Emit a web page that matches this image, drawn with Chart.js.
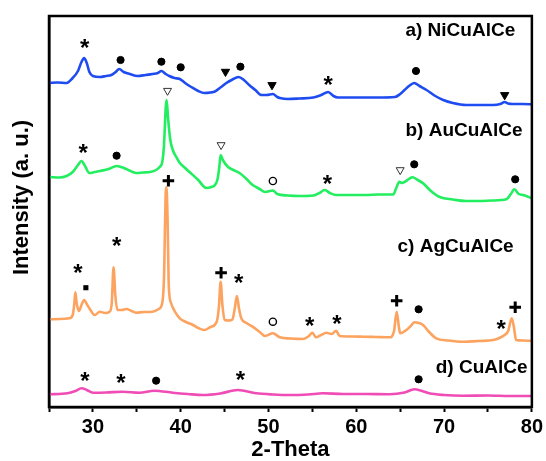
<!DOCTYPE html>
<html><head><meta charset="utf-8">
<script src="https://cdn.jsdelivr.net/npm/chart.js@4.4.1/dist/chart.umd.min.js"></script>
<style>html,body{margin:0;padding:0;background:#fff}#wrap{width:546px;height:461px}</style>
</head><body><div id="wrap"><canvas id="c" width="546" height="461"></canvas></div>
<script>
// ---- data (2-Theta, intensity a.u. with stacking offset) ----
const niCuAlCe = [[25.0,324],[26.0,324.5],[27.0,324],[27.7,329],[28.3,336],[28.7,345],[29.0,349],[29.3,344],[29.6,335],[30.0,331],[30.8,330],[31.5,331],[32.1,332],[32.6,335],[33.0,338],[33.5,335],[34.2,333],[35.1,331],[36.0,332],[36.8,333],[37.4,334],[37.8,336],[38.3,333],[38.7,331],[39.3,329],[39.9,328],[40.5,324],[41.2,320],[42.0,316],[42.7,314],[43.4,314.5],[43.9,315.5],[44.6,320],[45.2,324],[45.8,327],[46.6,330],[47.2,327],[47.8,322],[48.5,317],[49.2,312],[49.8,312],[50.5,313],[51.0,310],[51.3,309],[52.2,308],[53.5,308.5],[55.1,309.5],[56.0,312],[56.8,315],[57.4,311],[57.9,309.5],[59.0,309.5],[60.8,309.5],[62.5,309.5],[64.4,310],[65.0,313],[65.5,317],[66.0,321],[66.6,324],[67.2,321],[68.0,317],[69.0,311],[69.9,307],[71.0,304],[72.5,302],[74.0,302],[75.6,302],[76.4,303],[76.9,305],[77.3,303.5],[77.8,303],[79.0,303],[80.0,302.7]];
const auCuAlCe = [[25.1,230],[26.2,229.5],[27.0,231],[27.7,235],[28.3,242],[28.7,246],[29.1,241],[29.6,234],[30.2,235],[30.8,236],[31.8,238],[32.7,241],[33.2,240],[33.8,238],[34.9,234],[35.7,234.5],[36.5,235],[37.2,237],[37.6,240],[37.9,245],[38.1,262],[38.3,300],[38.4,307],[38.55,290],[38.8,268],[39.1,257],[39.5,250],[39.9,244],[40.5,239],[41.0,235],[42.0,227],[42.9,219],[43.5,220],[43.9,222],[44.2,228],[44.4,240],[44.55,252],[44.8,247],[45.4,240],[46.0,237],[46.7,234],[47.5,228],[48.2,222],[49.0,218],[49.6,215],[50.5,216.5],[51.0,213],[52.2,211.5],[53.5,211],[55.1,211.5],[55.8,214],[56.4,217],[57.0,214],[57.7,212],[59.5,212],[61.1,212],[62.5,212.5],[64.2,212.5],[64.6,220],[64.9,225.3],[65.2,224],[65.5,225],[66.0,228],[66.4,229.7],[67.0,227],[67.6,223.7],[68.5,216],[69.5,210],[71.0,207.5],[72.5,206],[74.0,206],[75.5,206.5],[77.1,207.7],[77.6,213],[78.0,217.7],[78.5,213],[79.0,212],[80.0,208.7]];
const agCuAlCe = [[25.1,87.7],[26.2,88],[27.3,88.7],[27.7,92],[27.9,105],[28.0,114.7],[28.15,104],[28.4,96],[28.7,102],[29.0,107],[29.3,103],[29.6,98.7],[30.2,92],[30.8,95.3],[31.4,94],[31.9,95.3],[32.15,104],[32.35,139.7],[32.55,112],[32.8,97],[33.3,97],[33.8,98],[34.4,96],[34.9,94.3],[35.8,95],[36.8,95.3],[37.5,98],[37.9,104],[38.1,130],[38.3,215],[38.38,220],[38.5,190],[38.65,120],[38.9,104],[39.3,96],[39.9,88.7],[40.6,85],[41.4,82],[42.0,79],[42.7,77],[43.4,80],[44.1,85.3],[44.35,100],[44.55,125.3],[44.75,102],[45.0,87],[45.5,86.5],[45.9,87.7],[46.15,98],[46.4,111],[46.65,98],[46.9,88.7],[47.5,84],[48.2,80.3],[49.0,75],[49.6,71],[50.5,73.7],[51.3,69.7],[52.5,68.5],[53.9,68],[54.6,71],[55.0,74.3],[55.4,69.7],[56.0,72],[56.6,74.3],[57.2,73],[57.7,76.3],[58.1,71],[59.5,70.5],[60.8,70.3],[62.3,70],[63.8,69.7],[64.3,76],[64.6,95.3],[64.85,80],[65.0,73.7],[65.7,77],[66.2,81],[66.6,84.7],[67.1,84],[67.6,82],[68.3,75],[69.1,68.7],[70.5,66.5],[72.1,65.3],[74.0,66],[75.6,67],[76.3,69],[76.9,72],[77.3,76],[77.7,88.7],[77.95,80],[78.2,67],[79.0,66.5],[80.0,66]];
const cuAlCe = [[25.0,12.7],[27.1,13.7],[28.0,16],[28.7,18.7],[29.3,17],[30.0,14.3],[31.5,14.5],[33.4,15.3],[35.3,14.3],[37.0,16.3],[39.1,14.3],[40.8,13],[42.5,12],[44.5,13.5],[46.5,17],[48.6,13.7],[50.5,12.5],[52.4,12],[54.5,12.5],[56.2,13.7],[58.5,13],[61.0,13],[63.8,12.7],[65.5,14.5],[66.6,17.7],[67.5,16],[68.3,13.7],[70.0,12],[72.1,11.3],[75.0,11.5],[77.5,11],[80.0,11]];

// phase markers [2-Theta, intensity]
const starMarks = [[29.05,363.7],[56.8,327],[28.9,258.7],[56.7,227.7],[32.7,166],[28.3,138.7],[46.6,128.7],[54.7,86],[57.8,87.7],[76.5,83],[29.1,30.3],[33.2,28.7],[46.8,32]];
const dotMarks = [[33.15,347],[37.8,345.3],[40.0,339.7],[46.8,340.3],[66.8,336],[32.7,251.3],[66.6,242.7],[78.1,227.7],[67.1,97.7],[37.2,26.3],[67.1,27.7]];
const triMarks = [[45.1,335.3],[50.4,322],[76.9,312]];
const openTriMarks = [[38.5,316.3],[44.6,262],[65.0,237]];
const openDotMarks = [[50.5,226],[50.5,85.3]];
const plusMarks = [[38.6,226.3],[44.6,134.3],[64.6,106.3],[78.1,99.7]];
const squareMarks = [[29.2,119.3]];

const seriesNames = ['a) NiCuAlCe','b) AuCuAlCe','c) AgCuAlCe','d) CuAlCe'];
const xTicks = [30,40,50,60,70,80];
// label anchors [2-Theta, intensity]
const nameAnchors = [[65.6,376],[65.6,276],[64.7,160],[69.05,39]];

const FONT = '"Liberation Sans", Arial, sans-serif';
const pts = a => a.map(p => ({x:p[0], y:p[1]}));
const trace = (d,c) => ({data:pts(d), showLine:true, borderColor:c, borderWidth:2.6, pointRadius:0, cubicInterpolationMode:'monotone', fill:false});
const mark = (d,o) => Object.assign({data:pts(d), showLine:false, pointHoverRadius:0}, o);

const overlay = {
  id:'overlay',
  afterDatasetsDraw(chart){
    const {ctx, chartArea:a, scales:{x,y}} = chart;
    ctx.save();
    ctx.fillStyle = '#000';
    ctx.textAlign = 'center'; ctx.textBaseline = 'alphabetic';
    ctx.font = 'bold 24px ' + FONT;
    const m = ctx.measureText('*');
    const off = (m.actualBoundingBoxAscent - m.actualBoundingBoxDescent)/2;
    starMarks.forEach(p => ctx.fillText('*', x.getPixelForValue(p[0]), y.getPixelForValue(p[1]) + off));
    ctx.textAlign = 'left'; ctx.textBaseline = 'middle';
    ctx.font = 'bold 19px ' + FONT;
    seriesNames.forEach((s,i) => ctx.fillText(s, x.getPixelForValue(nameAnchors[i][0]), y.getPixelForValue(nameAnchors[i][1])));
    ctx.lineWidth = 2.5; ctx.strokeStyle = '#000';
    ctx.strokeRect(a.left, a.top, a.right - a.left, a.bottom - a.top);
    ctx.translate(22, (a.top + a.bottom)/2 - 14);
    ctx.rotate(-Math.PI/2);
    ctx.textAlign = 'center'; ctx.font = 'bold 22px ' + FONT;
    ctx.fillText('Intensity (a. u.)', 0, 0);
    ctx.restore();
  }
};

new Chart(document.getElementById('c'), {
  type:'scatter',
  data:{datasets:[
    trace(cuAlCe,'#f04cb6'),
    trace(agCuAlCe,'#fca35f'),
    trace(auCuAlCe,'#22ee5f'),
    trace(niCuAlCe,'#1f4cf0'),
    mark(dotMarks,{pointStyle:'circle', pointRadius:3.6, backgroundColor:'#000', borderColor:'#000', borderWidth:1}),
    mark(triMarks,{pointStyle:'triangle', rotation:180, pointRadius:4.8, backgroundColor:'#000', borderColor:'#000', borderWidth:1}),
    mark(openTriMarks,{pointStyle:'triangle', rotation:180, pointRadius:4.6, backgroundColor:'#fff', borderColor:'#333', borderWidth:1}),
    mark(openDotMarks,{pointStyle:'circle', pointRadius:3.6, backgroundColor:'#fff', borderColor:'#000', borderWidth:1.4}),
    mark(plusMarks,{pointStyle:'cross', pointRadius:5.8, backgroundColor:'#000', borderColor:'#000', borderWidth:3}),
    mark(squareMarks,{pointStyle:'rect', pointRadius:3.6, backgroundColor:'#000', borderColor:'#000', borderWidth:0})
  ]},
  options:{
    responsive:false, animation:false,
    layout:{padding:{top:16, right:14, left:0, bottom:0}},
    plugins:{legend:{display:false}, tooltip:{enabled:false}},
    scales:{
      x:{type:'linear', min:25, max:80,
        afterFit(s){ s.height = 54; },
        afterBuildTicks(s){ const t=[]; for(let v=25; v<=80; v+=5) t.push({value:v}); s.ticks = t; },
        ticks:{autoSkip:false, maxRotation:0, padding:3, color:'#000', font:{family:FONT, size:20, weight:'bold'},
          callback:v => xTicks.includes(v) ? String(v) : ''},
        grid:{display:true, drawOnChartArea:false, drawTicks:true, tickLength:5, tickWidth:2, tickColor:'#000'},
        border:{display:true, color:'#000', width:2.5},
        title:{display:true, text:'2-Theta', color:'#000', font:{family:FONT, size:22, weight:'bold', lineHeight:1.0}, padding:{top:0,bottom:0}}
      },
      y:{type:'linear', min:0, max:391,
        afterFit(s){ s.width = 49; },
        ticks:{display:false},
        grid:{display:false, drawTicks:false},
        border:{display:true, color:'#000', width:2.5},
        title:{display:false}
      }
    }
  },
  plugins:[overlay]
});
</script></body></html>
